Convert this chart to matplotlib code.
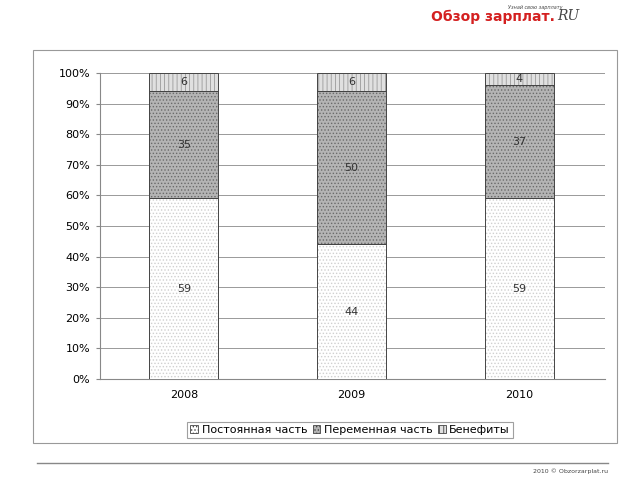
import matplotlib.pyplot as plt
import numpy as np
from matplotlib.patches import Rectangle
from matplotlib.lines import Line2D

plt.rcParams['font.family'] = ['DejaVu Sans']
plt.rcParams['hatch.linewidth'] = 0.6

years = ['2008', '2009', '2010']
postoyannaya = [59, 44, 59]
peremennaya = [35, 50, 37]
benefity = [6, 6, 4]
labels = ['Постоянная часть', 'Переменная часть', 'Бенефиты']

fig = plt.figure(figsize=(6.4, 4.8), dpi=100)
W, H = 640, 480

# рамка области диаграммы
fig.patches.append(Rectangle((33 / W, 1 - 443 / H), 584 / W, 393 / H,
                             transform=fig.transFigure, fill=False,
                             edgecolor='#999999', linewidth=0.8))

ax = fig.add_axes([100 / W, 1 - 379 / H, 505 / W, 306 / H])
x = np.arange(len(years))
w = 0.41

series = [postoyannaya, peremennaya, benefity]
faces = ['white', '#b4b4b4', '#e0e0e0']
hatch_cols = ['#d0d0d0', '#6a6a6a', '#9a9a9a']
hatches = ['.....', '.....', '||||']
bottom = np.zeros(len(years))
handles = []
for vals, fc, hc, h, lab in zip(series, faces, hatch_cols, hatches, labels):
    bars = ax.bar(x, vals, w, bottom=bottom, color=fc, hatch=h,
                  edgecolor=hc, linewidth=0, label=lab, zorder=3)
    ax.bar(x, vals, w, bottom=bottom, fill=False, edgecolor='#444444',
           linewidth=0.7, zorder=3.5)
    for xi, b, v in zip(x, bottom, vals):
        ax.text(xi, b + v / 2, str(v), ha='center', va='center',
                fontsize=8, color='#333333', zorder=4)
    bottom += np.array(vals)
    handles.append(bars)

ax.set_xlim(-0.5, 2.51)
ax.set_ylim(0, 100)
ax.set_yticks(np.arange(0, 101, 10))
ax.set_yticklabels([f'{v}%' for v in range(0, 101, 10)], fontsize=8)
ax.set_xticks(x)
ax.set_xticklabels(years, fontsize=8)
ax.yaxis.grid(True, color='#999999', linewidth=0.7, zorder=0)
ax.set_axisbelow(True)
for s in ['top', 'right']:
    ax.spines[s].set_visible(False)
ax.spines['left'].set_color('#888888')
ax.spines['bottom'].set_color('#888888')
ax.tick_params(axis='both', length=3, color='#888888', pad=4)
ax.tick_params(axis='x', length=0, pad=8)

leg = fig.legend(handles=handles, labels=labels, loc='center',
                 bbox_to_anchor=(350 / W, 1 - 430 / H), ncol=3, fontsize=8,
                 frameon=True, fancybox=False, edgecolor='#888888',
                 handlelength=0.7, handleheight=0.7, handletextpad=0.3,
                 columnspacing=0.5, borderpad=0.3)
leg.get_frame().set_linewidth(0.8)
for p in leg.get_patches():
    p.set_linewidth(0.6)
    p.set_edgecolor('#444444')

# нижняя линия и подпись
fig.add_artist(Line2D([37 / W, 608 / W], [1 - 463 / H, 1 - 463 / H],
                      transform=fig.transFigure, color='#888888', linewidth=1))
fig.text(608 / W, 1 - 471 / H, '2010 © Obzorzarplat.ru', ha='right',
         va='center', fontsize=4.5, color='#444444')

# логотип
fig.text(555 / W, 1 - 17 / H, 'Обзор зарплат.', ha='right', va='center',
         fontsize=10, fontweight='bold', color='#d42020')
fig.text(557 / W, 1 - 16 / H, 'RU', ha='left', va='center', fontsize=10,
         style='italic', color='#444444', family=['DejaVu Serif'])
fig.text(563 / W, 1 - 7 / H, 'Узнай свою зарплату', ha='right', va='center',
         fontsize=3.5, style='italic', color='#444444')

fig.savefig('out.png', dpi=100)
